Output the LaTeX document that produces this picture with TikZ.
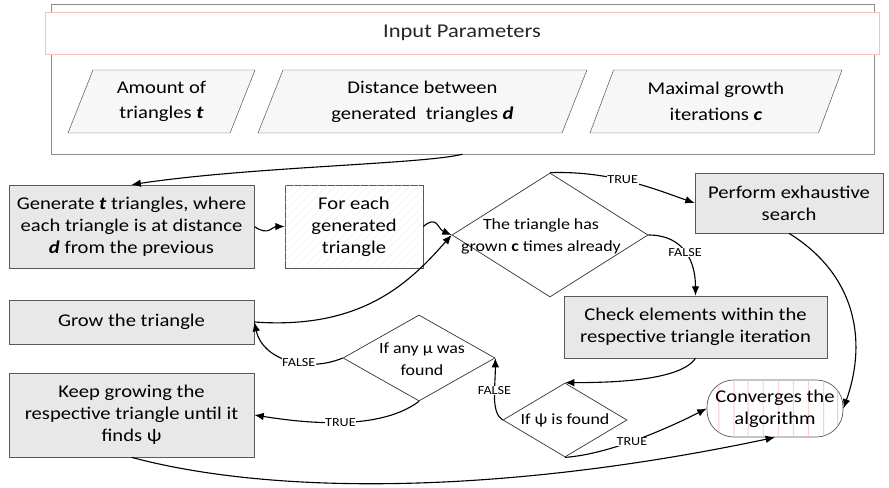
\documentclass[tikz,border=0pt]{standalone}
\usepackage{fontspec}
\setmainfont{Carlito}[FakeStretch=1.15]
\usetikzlibrary{shapes.geometric,arrows.meta,patterns.meta}
\begin{document}
\begin{tikzpicture}[x=0.03cm,y=-0.03cm,
  box/.style={draw=black!65,fill=black!9,line width=0.6pt,align=center,inner sep=2pt,font=\fontsize{15.3}{18.7}\selectfont},
  inbox/.style={trapezium,trapezium left angle=63,trapezium right angle=117,trapezium stretches body,draw=black!70,fill=black!3,minimum height=1.89cm,align=center,font=\fontsize{15.3}{22}\selectfont},
  decision/.style={diamond,draw=black!80,line width=0.6pt,inner sep=0pt},
  dtext/.style={align=center,font=\fontsize{13.3}{18.7}\selectfont},
  lbl/.style={fill=white,inner sep=0.5pt,font=\fontsize{10.5}{12}\selectfont},
  conn/.style={line width=0.95pt,-{Latex[length=8pt,width=6.5pt]}}]
\useasboundingbox (0,0) rectangle (889,488);

% input parameters
\node[draw=black!45,minimum width=24.69cm,minimum height=4.5cm] (inputs) at (462.5,79) {};
\node[draw=red!25,fill=white,minimum width=25.02cm,minimum height=1.26cm,font=\fontsize{16.7}{20}\selectfont,text=black!85] (inhead) at (462,33) {Input Parameters};
\node[inbox,minimum width=5.61cm] (amount) at (161.5,101.5) {Amount of\\triangles \textbf{\textit{t}}};
\node[inbox,minimum width=9.87cm] (dist) at (422.5,101.5) {Distance between\\generated\ \ triangles \textbf{\textit{d}}};
\node[inbox,minimum width=7.56cm] (maxgrow) at (716,101.5) {Maximal growth\\iterations \textbf{\textit{c}}};

% process boxes
\node[box,minimum width=7.35cm,minimum height=2.49cm] (gen) at (131.5,226.5) {Generate \textbf{\textit{t}} triangles, where\\each triangle is at distance\\\textbf{\textit{d}} from the previous};
\node[box,fill=white,postaction={pattern={Lines[angle=45,distance=5pt,line width=0.3pt]},pattern color=black!7},minimum width=4.14cm,minimum height=2.49cm] (foreach) at (354,226.5) {For each\\generated\\triangle};
\node[box,minimum width=7.35cm,minimum height=1.32cm] (grow) at (131.5,322) {Grow the triangle};
\node[box,minimum width=7.35cm,minimum height=2.52cm] (keep) at (131.5,415) {Keep growing the\\respective triangle until it\\finds ψ};
\node[box,minimum width=5.64cm,minimum height=1.8cm] (perform) at (789,203) {Perform exhaustive\\search};
\node[box,minimum width=7.89cm,minimum height=1.86cm] (check) at (695.5,327) {Check elements within the\\respective triangle iteration};
\node[box,fill=white,rounded corners=0.8cm,postaction={pattern={Lines[angle=90,distance=13pt,line width=0.6pt]},pattern color=red!35},minimum width=4.08cm,minimum height=1.71cm] (conv) at (775,408.5) {Converges the\\algorithm};

% decisions
\node[decision,minimum width=5.88cm,minimum height=3.72cm] (d1) at (550,235) {};
\node[dtext] (d1text) at (541,236) {The triangle has\\grown \textbf{c} times already};
\node[decision,minimum width=3.72cm,minimum height=2.22cm] (d2) at (565,420) {};
\node[dtext] (d2text) at (565,420) {If ψ is found};
\node[decision,minimum width=4.56cm,minimum height=2.58cm] (d3) at (419,358) {};
\node[dtext] (d3text) at (422,359) {If any µ was\\found};

% connectors
\draw[conn] (inputs.south) .. controls +(-40,10) and +(120,-18) .. (gen.north);
\draw[conn] (gen.east) .. controls +(14,10) and +(-12,0) .. (foreach.west);
\draw[conn] (foreach.east) .. controls +(14,-12) and +(-14,-6) .. (d1.west);
\draw[conn] (grow.east) .. controls +(110,8) and +(-40,45) .. (d1.west);
\draw[conn] (d1.north) .. controls +(60,-2) and +(-40,-14) .. node[lbl,pos=0.45] {TRUE} (perform.west);
\draw[conn] (d1.east) .. controls +(35,0) and +(0,-35) .. node[lbl,pos=0.5] {FALSE} (check.north);
\draw[conn] (check.south) .. controls +(-15,22) and +(50,0) .. (d2.north);
\draw[conn] (d2.west) .. controls +(-12,-8) and +(0,30) .. node[lbl,pos=0.6] {FALSE} (d3.east);
\draw[conn] (d2.south) .. controls +(45,-3) and +(-35,18) .. node[lbl,pos=0.45] {TRUE} (conv.west);
\draw[conn] (perform.south) .. controls +(65,40) and +(25,-70) .. (conv.east);
\draw[conn] (keep.south) .. controls +(150,40) and +(-260,55) .. (conv.south);
\draw[conn] (d3.west) .. controls +(-35,15) and +(8,38) .. node[lbl,pos=0.4] {FALSE} (grow.east);
\draw[conn] (d3.south) .. controls +(-40,30) and +(50,8) .. node[lbl,pos=0.5] {TRUE} (keep.east);
\end{tikzpicture}
\end{document}
